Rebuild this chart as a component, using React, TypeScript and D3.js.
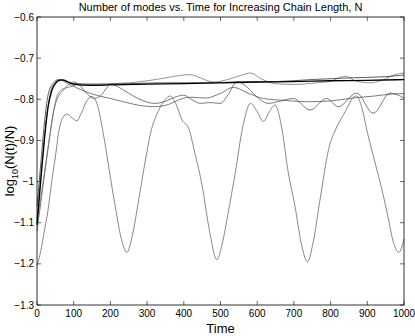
import React, { useEffect, useRef } from 'react';
import * as d3 from 'd3';

// time samples and log10(N(t)/N) for each chain length
const osc_t = [0, 10, 20, 30, 40, 50, 60, 70, 82, 95, 109, 120, 135, 150, 165, 180, 200, 215, 230, 245, 260, 277, 295, 310, 330, 350, 363, 378, 395, 413, 430, 450, 470, 490, 505, 520, 540, 560, 582, 600, 617, 633, 649, 665, 685, 703, 720, 737, 752, 771, 795, 817, 840, 860, 871, 885, 900, 920, 940, 955, 972, 986, 1000];
const osc_v = [-1.205, -1.17, -1.12, -1.07, -1.0, -0.94, -0.875, -0.845, -0.836, -0.845, -0.852, -0.835, -0.805, -0.793, -0.815, -0.88, -0.99, -1.07, -1.14, -1.172, -1.13, -1.045, -0.95, -0.88, -0.83, -0.8, -0.792, -0.81, -0.85, -0.87, -0.93, -1.01, -1.12, -1.19, -1.15, -1.08, -0.98, -0.87, -0.81, -0.83, -0.854, -0.83, -0.814, -0.86, -0.98, -1.06, -1.15, -1.195, -1.15, -1.045, -0.92, -0.867, -0.83, -0.797, -0.792, -0.82, -0.88, -0.95, -1.02, -1.08, -1.15, -1.172, -1.14];

const thick_t = [0, 10, 20, 30, 40, 50, 60, 70, 85, 100, 150, 200, 300, 400, 500, 600, 700, 800, 900, 1000];
const thick_v = [-1.105, -1.0, -0.9, -0.82, -0.78, -0.762, -0.754, -0.753, -0.758, -0.763, -0.766, -0.765, -0.763, -0.762, -0.76, -0.758, -0.757, -0.755, -0.754, -0.752];

const b2_t = [0, 10, 20, 30, 45, 60, 75, 100, 150, 250, 350, 450, 550, 650, 750, 850, 950, 1000];
const b2_v = [-1.06, -0.96, -0.86, -0.79, -0.76, -0.752, -0.755, -0.762, -0.763, -0.762, -0.76, -0.76, -0.758, -0.757, -0.752, -0.748, -0.745, -0.741];

const bump_t = [0, 20, 40, 55, 70, 90, 110, 140, 180, 210, 250, 300, 350, 390, 417, 445, 480, 520, 555, 582, 610, 650, 700, 760, 800, 839, 870, 910, 950, 975, 1000];
const bump_v = [-1.1, -0.98, -0.86, -0.79, -0.775, -0.77, -0.765, -0.765, -0.765, -0.762, -0.76, -0.755, -0.748, -0.742, -0.74, -0.748, -0.758, -0.752, -0.742, -0.736, -0.75, -0.762, -0.764, -0.76, -0.756, -0.744, -0.756, -0.76, -0.75, -0.74, -0.736];

const slide_t = [0, 12, 25, 38, 52, 65, 80, 110, 140, 170, 200, 240, 280, 320, 360, 390, 420, 460, 499, 535, 575, 617, 680, 735, 800, 860, 920, 970, 1000];
const slide_v = [-1.09, -0.97, -0.85, -0.78, -0.758, -0.754, -0.76, -0.773, -0.784, -0.792, -0.798, -0.807, -0.815, -0.818, -0.812, -0.8, -0.795, -0.797, -0.786, -0.771, -0.785, -0.798, -0.803, -0.806, -0.804, -0.797, -0.792, -0.787, -0.786];

const wave_t = [0, 15, 30, 45, 60, 75, 90, 100, 115, 135, 155, 175, 190, 200, 210, 240, 280, 320, 350, 375, 400, 420, 445, 470, 499, 520, 545, 565, 600, 630, 660, 698, 744, 789, 821, 871, 916, 962, 1000];
const wave_v = [-1.12, -1.02, -0.92, -0.83, -0.79, -0.775, -0.762, -0.758, -0.765, -0.785, -0.798, -0.79, -0.772, -0.763, -0.765, -0.78, -0.8, -0.81, -0.805, -0.795, -0.79, -0.8, -0.81, -0.808, -0.81, -0.79, -0.757, -0.765, -0.795, -0.81, -0.805, -0.798, -0.826, -0.798, -0.818, -0.785, -0.834, -0.785, -0.797];

const xTicks = [0, 100, 200, 300, 400, 500, 600, 700, 800, 900, 1000];
const yTicks = [-1.3, -1.2, -1.1, -1, -0.9, -0.8, -0.7, -0.6];

const series = [
  { t: osc_t, v: osc_v, color: '#555', w: 0.7 },
  { t: wave_t, v: wave_v, color: '#444', w: 0.7 },
  { t: slide_t, v: slide_v, color: '#444', w: 0.7 },
  { t: bump_t, v: bump_v, color: '#666', w: 0.7 },
  { t: b2_t, v: b2_v, color: '#333', w: 0.8 },
  { t: thick_t, v: thick_v, color: '#000', w: 1.3 },
];

export default function App() {
  const ref = useRef<SVGSVGElement>(null);

  useEffect(() => {
    const svg = d3.select(ref.current);
    svg.selectAll('*').remove();

    const width = 415, height = 336;
    const left = 37, right = 404, top = 17, bottom = 305;
    const font = 'Liberation Sans, Arial, sans-serif';

    const x = d3.scaleLinear().domain([0, 1000]).range([left, right]);
    const y = d3.scaleLinear().domain([-1.3, -0.6]).range([bottom, top]);

    svg.attr('width', width).attr('height', height);
    svg.append('rect').attr('width', width).attr('height', height).attr('fill', '#fff');

    const fmt = (d: number) => String(d).replace('-', '\u2212');

    // tick marks point inward, on all four sides
    const g = svg.append('g').attr('stroke', '#000').attr('stroke-width', 0.6);
    xTicks.forEach(t => {
      g.append('line').attr('x1', x(t)).attr('x2', x(t)).attr('y1', bottom).attr('y2', bottom - 4);
      g.append('line').attr('x1', x(t)).attr('x2', x(t)).attr('y1', top).attr('y2', top + 4);
    });
    yTicks.forEach(v => {
      g.append('line').attr('x1', left).attr('x2', left + 4).attr('y1', y(v)).attr('y2', y(v));
      g.append('line').attr('x1', right).attr('x2', right - 4).attr('y1', y(v)).attr('y2', y(v));
    });

    svg.append('g').selectAll('text').data(xTicks).enter().append('text')
      .attr('x', d => x(d)).attr('y', bottom + 12)
      .attr('text-anchor', 'middle').attr('font-family', font).attr('font-size', 10)
      .text(d => String(d));

    svg.append('g').selectAll('text').data(yTicks).enter().append('text')
      .attr('x', left - 3).attr('y', d => y(d) + 3.5)
      .attr('text-anchor', 'end').attr('font-family', font).attr('font-size', 10)
      .text(d => fmt(d));

    const line = d3.line<[number, number]>()
      .x(d => x(d[0]))
      .y(d => y(d[1]))
      .curve(d3.curveMonotoneX);

    series.forEach(s => {
      const pts = s.t.map((t, i) => [t, s.v[i]] as [number, number]);
      svg.append('path')
        .attr('d', line(pts))
        .attr('fill', 'none')
        .attr('stroke', s.color)
        .attr('stroke-width', s.w)
        .attr('stroke-linejoin', 'round');
    });

    svg.append('rect')
      .attr('x', left).attr('y', top)
      .attr('width', right - left).attr('height', bottom - top)
      .attr('fill', 'none').attr('stroke', '#000').attr('stroke-width', 0.8);

    svg.append('text')
      .attr('x', (left + right) / 2).attr('y', 11)
      .attr('text-anchor', 'middle').attr('font-family', font).attr('font-size', 11)
      .text('Number of modes vs. Time for Increasing Chain Length, N');

    svg.append('text')
      .attr('x', (left + right) / 2).attr('y', 333)
      .attr('text-anchor', 'middle').attr('font-family', font).attr('font-size', 13)
      .text('Time');

    const yl = svg.append('text')
      .attr('transform', `translate(14,${(top + bottom) / 2}) rotate(-90)`)
      .attr('text-anchor', 'middle').attr('font-family', font).attr('font-size', 13);
    yl.append('tspan').text('log');
    yl.append('tspan').attr('font-size', 9).attr('dy', 4).text('10');
    yl.append('tspan').attr('dy', -4).text('(N(t)/N)');
  }, []);

  return <svg ref={ref} style={{ position: 'absolute', left: 0, top: 0 }}></svg>;
}
